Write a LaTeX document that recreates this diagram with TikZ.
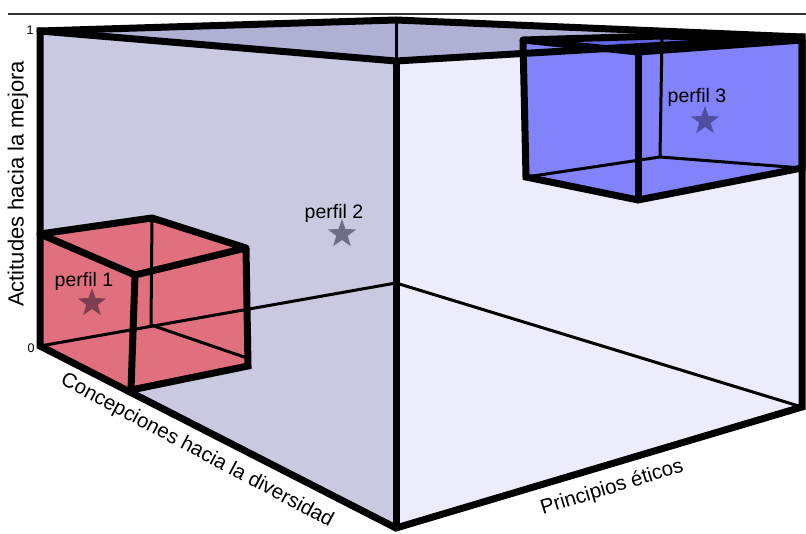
\documentclass[tikz,border=0pt]{standalone}
\usepackage{fontspec}
\setmainfont{Liberation Sans}
\usetikzlibrary{shapes.geometric}
\definecolor{leftwall}{HTML}{C9C9E1}
\definecolor{rightwall}{HTML}{ECECFC}
\definecolor{topface}{HTML}{B0B0D4}
\definecolor{redc}{HTML}{E0707E}
\definecolor{bluec}{HTML}{8282FA}
\definecolor{bluetop}{HTML}{6464E6}
\definecolor{starone}{HTML}{7F3F52}
\definecolor{startwo}{HTML}{6E6E84}
\definecolor{starthree}{HTML}{4F4FA0}
\tikzset{
  edgethick/.style={line width=7pt},
  edgethin/.style={line width=3pt},
  starmark/.style={star, star points=5, star point ratio=2.5, minimum size=30pt, inner sep=0pt, draw=none},
  perfiltext/.style={font=\fontsize{19.5}{23}\selectfont, anchor=base, inner sep=0pt},
  axistext/.style={font=\fontsize{20.5}{24}\selectfont, inner sep=0pt},
  ticktext/.style={font=\fontsize{12.5}{14}\selectfont, inner sep=0pt}
}
\begin{document}
\begin{tikzpicture}[x=1pt,y=-1pt]
\useasboundingbox (0,0) rectangle (806,534);
% big cube corners
\coordinate (TL) at (40,31);
\coordinate (TB) at (396,20);
\coordinate (TR) at (802,37);
\coordinate (TF) at (396,61);
\coordinate (BL) at (40,346);
\coordinate (BB) at (396,283);
\coordinate (BR) at (802,407);
\coordinate (BF) at (396,528);
% red cube corners
\coordinate (R1) at (40,234);
\coordinate (R2) at (152,218);
\coordinate (R3) at (246,248);
\coordinate (R4) at (135,275);
\coordinate (R5) at (131,390);
\coordinate (R6) at (248,366);
\coordinate (R7) at (151,325);
\coordinate (R8) at (247,358);
% blue cube corners
\coordinate (B1) at (523,40);
\coordinate (B2) at (662,36);
\coordinate (B3) at (802,40);
\coordinate (B4) at (638,52);
\coordinate (B5) at (526,177);
\coordinate (B6) at (638,200);
\coordinate (B7) at (802,168);
\coordinate (B8) at (660,157);
% top rule
\coordinate (RuleA) at (8,14);
\coordinate (RuleB) at (806,14);
\draw[line width=1.3pt, black!80] (RuleA) -- (RuleB);
% big cube fills
\fill[leftwall] (TL) -- (TF) -- (BF) -- (BL) -- cycle;
\fill[rightwall] (TF) -- (TR) -- (BR) -- (BF) -- cycle;
\fill[topface] (TL) -- (TB) -- (TR) -- (TF) -- cycle;
% red cube fill
\fill[redc] (R1) -- (R2) -- (R3) -- (R6) -- (R5) -- (BL) -- cycle;
% blue cube fill
\fill[bluec] (B1) -- (B2) -- (B3) -- (B7) -- (B6) -- (B5) -- cycle;
\fill[bluetop] (B1) -- (B2) -- (B3) -- (B4) -- cycle;
% big cube thin lines
\draw[edgethin] (BL) -- (BB) -- (BR);
\draw[edgethin] (TB) -- (TF);
% big cube thick lines
\draw[edgethick] (TF) -- (TL) -- (BL) -- (BF) -- (BR) -- (TR) -- cycle;
\draw[edgethick, line cap=round] (TL) -- (TB) -- (TR);
\draw[edgethick] (TF) -- (BF);
% red cube lines
\draw[edgethin] (R2) -- (R7) -- (R8);
\draw[edgethick, line join=round] (R1) -- (R2) -- (R3) -- (R4) -- cycle;
\draw[edgethick] (R4) -- (R5);
\draw[edgethick] (R3) -- (R6) -- (R5);
% blue cube lines
\draw[edgethin] (B2) -- (B8);
\draw[edgethin] (B5) -- (B8) -- (B7);
\draw[edgethick, line join=round] (B1) -- (B2) -- (B3) -- (B4) -- cycle;
\draw[edgethick] (B1) -- (B5) -- (B6) -- (B7) -- (B3);
\draw[edgethick] (B4) -- (B6);
% profiles
\node[starmark, fill=starone] (s1) at (92,303) {};
\node[perfiltext] (p1) at (84,287) {perfil 1};
\node[starmark, fill=startwo] (s2) at (342,234) {};
\node[perfiltext] (p2) at (334,219) {perfil 2};
\node[starmark, fill=starthree] (s3) at (705,121) {};
\node[perfiltext] (p3) at (697,103) {perfil 3};
% ticks
\node[ticktext] (one) at (30,30) {1};
\node[ticktext] (zero) at (31,348) {0};
% axis labels
\node[axistext, font=\fontsize{22}{26}\selectfont, rotate=90] (ay) at (18,184) {Actitudes hacia la mejora};
\node[axistext, rotate=-28] (ax) at (197,451) {Concepciones hacia la diversidad};
\node[axistext, rotate=17] (az) at (612,488) {Principios éticos};
\end{tikzpicture}
\end{document}
